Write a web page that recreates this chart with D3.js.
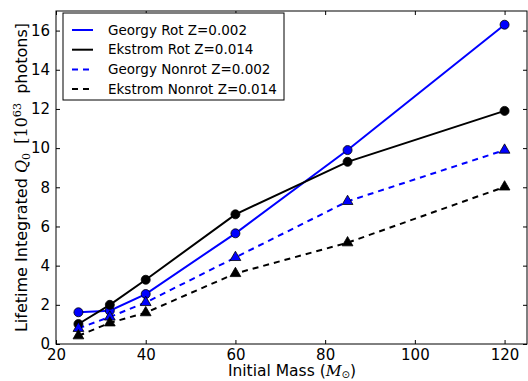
<!DOCTYPE html>
<html>
<head>
<meta charset="utf-8">
<script src="https://cdn.jsdelivr.net/npm/d3@7"></script>
<style>
  html, body { margin: 0; padding: 0; background: #fff; }
  svg { display: block; font-family: "DejaVu Sans", sans-serif; }
</style>
</head>
<body>
<svg id="chart" width="528" height="381"></svg>
<script>
// Initial stellar masses (solar masses)
const masses = [25, 32, 40, 60, 85, 120];

// Lifetime-integrated ionizing photons, units of 1e63
const georgyRot    = [1.62, 1.70, 2.55, 5.65, 9.90, 16.30];
const ekstromRot   = [1.02, 2.00, 3.28, 6.62, 9.30, 11.90];
const georgyNonrot = [0.80, 1.38, 2.12, 4.42, 7.28, 9.90];
const ekstromNonrot= [0.42, 1.08, 1.60, 3.60, 5.17, 8.02];

const xTicks = [20, 40, 60, 80, 100, 120];
const yTicks = [0, 2, 4, 6, 8, 10, 12, 14, 16];

const series = [
  { name: "Georgy Rot Z=0.002",    values: georgyRot,    color: "#0000ff", dashed: false, marker: "circle" },
  { name: "Ekstrom Rot Z=0.014",   values: ekstromRot,   color: "#000000", dashed: false, marker: "circle" },
  { name: "Georgy Nonrot Z=0.002", values: georgyNonrot, color: "#0000ff", dashed: true,  marker: "triangle" },
  { name: "Ekstrom Nonrot Z=0.014",values: ekstromNonrot,color: "#000000", dashed: true,  marker: "triangle" }
];

const margin = { left: 56, right: 1, top: 11, bottom: 37 };
const W = 528, H = 381;
const svg = d3.select("#chart");

const x = d3.scaleLinear().domain([20, 125]).range([margin.left, W - margin.right]);
const y = d3.scaleLinear().domain([0, 17]).range([H - margin.bottom, margin.top]);

const tickFs = 15, labelFs = 15.5, legendFs = 13.5;
const mathFont = "DejaVu Serif, serif";

// Axes: ticks point inward on all four sides
const gBottom = svg.append("g").attr("transform", `translate(0,${y(0)})`)
  .call(d3.axisBottom(x).tickValues(xTicks).tickSizeInner(-4).tickSizeOuter(0).tickPadding(5));
const gTop = svg.append("g").attr("transform", `translate(0,${y(17)})`)
  .call(d3.axisTop(x).tickValues(xTicks).tickSizeInner(-4).tickSizeOuter(0).tickFormat(""));
const gLeft = svg.append("g").attr("transform", `translate(${x(20)},0)`)
  .call(d3.axisLeft(y).tickValues(yTicks).tickSizeInner(-4).tickSizeOuter(0).tickPadding(6));
const gRight = svg.append("g").attr("transform", `translate(${x(125)},0)`)
  .call(d3.axisRight(y).tickValues(yTicks).tickSizeInner(-4).tickSizeOuter(0).tickFormat(""));

[gBottom, gTop, gLeft, gRight].forEach(g => {
  g.select(".domain").remove();
  g.selectAll(".tick line").attr("stroke", "#000").attr("stroke-width", 1);
  g.selectAll(".tick text").attr("font-size", tickFs).attr("fill", "#000")
    .attr("font-family", "DejaVu Sans, sans-serif");
});

// Frame
svg.append("rect")
  .attr("x", x(20)).attr("y", y(17))
  .attr("width", x(125) - x(20)).attr("height", y(0) - y(17))
  .attr("fill", "none").attr("stroke", "#000").attr("stroke-width", 1);

const plot = svg.append("g");
const line = d3.line().x((d, i) => x(masses[i])).y(d => y(d));

series.forEach(s => {
  plot.append("path")
    .datum(s.values)
    .attr("d", line)
    .attr("fill", "none")
    .attr("stroke", s.color)
    .attr("stroke-width", 2)
    .attr("stroke-dasharray", s.dashed ? "6,5" : null);
});

series.forEach(s => {
  if (s.marker === "circle") {
    plot.selectAll(null).data(s.values).enter().append("circle")
      .attr("cx", (d, i) => x(masses[i])).attr("cy", d => y(d))
      .attr("r", 4.5)
      .attr("fill", s.color).attr("stroke", "#000").attr("stroke-width", 0.8);
  } else {
    const tri = d3.symbol().type(d3.symbolTriangle).size(50);
    plot.selectAll(null).data(s.values).enter().append("path")
      .attr("d", tri)
      .attr("transform", (d, i) => `translate(${x(masses[i])},${y(d)})`)
      .attr("fill", s.color).attr("stroke", "#000").attr("stroke-width", 0.8);
  }
});

// Axis titles
const xl = svg.append("text")
  .attr("x", 292).attr("y", 376)
  .attr("text-anchor", "middle")
  .attr("font-size", labelFs);
xl.append("tspan").text("Initial Mass (");
xl.append("tspan").attr("font-family", mathFont).attr("font-style", "italic").text("M");
xl.append("tspan").attr("font-size", labelFs * 0.65).attr("dy", 2).text("⊙");
xl.append("tspan").attr("dy", -2).text(")");

const yl = svg.append("text")
  .attr("transform", `translate(27,${(y(0) + y(17)) / 2}) rotate(-90)`)
  .attr("text-anchor", "middle")
  .attr("font-size", 16);
yl.append("tspan").text("Lifetime Integrated ");
yl.append("tspan").attr("font-family", mathFont).attr("font-style", "italic").text("Q");
yl.append("tspan").attr("font-family", mathFont).attr("font-size", 16 * 0.7).attr("dy", 3).text("0");
yl.append("tspan").attr("dy", -3).attr("dx", 4).attr("font-family", mathFont).text(" [10");
yl.append("tspan").attr("font-family", mathFont).attr("font-size", 16 * 0.7).attr("dy", -6).text("63");
yl.append("tspan").attr("dy", 6).attr("dx", 4).text(" photons]");

// Legend
const lg = svg.append("g");
lg.append("rect")
  .attr("x", 63).attr("y", 13).attr("width", 221).attr("height", 87)
  .attr("fill", "#fff").attr("stroke", "#000").attr("stroke-width", 1);
series.forEach((s, i) => {
  const yy = 30 + i * 19.7;
  lg.append("line")
    .attr("x1", 72).attr("x2", 93).attr("y1", yy).attr("y2", yy)
    .attr("stroke", s.color).attr("stroke-width", 2)
    .attr("stroke-dasharray", s.dashed ? "6,5" : null);
  lg.append("text")
    .attr("x", 108).attr("y", yy).attr("dy", "0.35em")
    .attr("font-size", legendFs).text(s.name);
});
</script>
</body>
</html>
